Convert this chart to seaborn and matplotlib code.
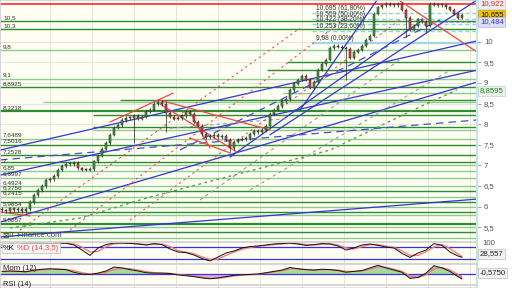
import numpy as np
import pandas as pd
import matplotlib
matplotlib.use("Agg")
import matplotlib.pyplot as plt
from matplotlib.patches import Rectangle
import seaborn as sns

# ---------------- data ----------------
closes = [5.91, 5.89, 5.96, 5.91, 5.94, 5.89, 5.94, 6.11, 6.28, 6.40,
          6.50, 6.64, 6.67, 6.74, 6.89, 6.98, 7.03, 7.03, 7.06, 6.93,
          6.89, 6.89, 6.91, 7.10, 7.23, 7.40, 7.54, 7.74, 7.91, 7.98,
          8.10, 8.15, 8.15, 8.20, 8.13, 8.18, 8.30, 8.35, 8.49, 8.54,
          8.49, 8.27, 8.18, 8.13, 8.15, 8.20, 8.30, 8.25, 8.05, 7.96,
          7.76, 7.69, 7.71, 7.74, 7.69, 7.71, 7.62, 7.42, 7.57, 7.62,
          7.64, 7.66, 7.76, 7.83, 7.81, 7.86, 7.96, 8.25, 8.35, 8.44,
          8.56, 8.61, 8.83, 8.98, 9.08, 9.17, 9.08, 8.88, 9.03, 9.32,
          9.46, 9.56, 9.85, 9.90, 9.88, 9.85, 9.83, 9.61, 9.76, 9.81,
          9.90, 10.05, 10.15, 10.68, 10.83, 10.88, 10.92, 10.90, 10.88, 10.92,
          10.78, 10.58, 10.29, 10.39, 10.54, 10.49, 10.39, 10.92, 10.90, 10.88,
          10.90, 10.83, 10.78, 10.68, 10.58, 10.655]
opens = [5.94, 5.91, 5.89, 5.96, 5.91, 5.94, 5.89, 5.94, 6.11, 6.28,
         6.40, 6.50, 6.64, 6.67, 6.74, 6.89, 6.98, 7.03, 7.03, 7.06,
         6.93, 6.89, 6.89, 6.91, 7.10, 7.23, 7.40, 7.54, 7.74, 7.91,
         7.98, 8.10, 8.15, 8.15, 8.20, 8.13, 8.18, 8.30, 8.35, 8.49,
         8.54, 8.49, 8.27, 8.18, 8.13, 8.15, 8.20, 8.30, 8.25, 8.05,
         7.96, 7.76, 7.69, 7.71, 7.74, 7.69, 7.71, 7.62, 7.42, 7.57,
         7.62, 7.64, 7.66, 7.76, 7.83, 7.81, 7.86, 7.96, 8.25, 8.35,
         8.44, 8.56, 8.61, 8.83, 8.98, 9.08, 9.17, 9.08, 8.88, 9.03,
         9.32, 9.46, 9.56, 9.85, 9.90, 9.88, 9.85, 9.83, 9.61, 9.76,
         9.81, 9.90, 10.05, 10.15, 10.68, 10.83, 10.88, 10.92, 10.90, 10.88,
         10.92, 10.78, 10.58, 10.29, 10.39, 10.54, 10.49, 10.39, 10.92, 10.90,
         10.88, 10.90, 10.83, 10.78, 10.68, 10.58]
long_low_bars = [33, 41, 57, 86, 101, 106]
long_low_vals = [7.55, 7.82, 7.33, 9.07, 10.11, 10.23]

level_prices = [10.5, 10.3, 9.8, 9.5, 9.31, 9.1, 8.8925, 8.75, 8.59, 8.54,
                8.3218, 8.22, 7.94, 7.86, 7.6489, 7.5016, 7.2528, 7.08, 7.0,
                6.85, 6.6997, 6.4924, 6.3756, 6.2415, 6.10, 5.9854, 5.87,
                5.79, 5.5857, 5.5, 5.39, 5.23]
level_labels = ["10,5", "10,3", "9,8", "", "", "9,1", "8,8925", "", "", "",
                "8,3218", "", "", "", "7,6489", "7,5016", "7,2528", "", "7",
                "6,85", "6,6997", "6,4924", "6,3756", "6,2415", "", "5,9854", "",
                "", "5,5857", "", "", ""]

fib_prices = [10.695, 10.559, 10.422, 10.253, 9.98]
fib_labels = ["10,695 (61,80%)", "10,559 (50,00%)", "10,422 (38,20%)",
              "10,253 (23,60%)", "9,98 (0,00%)"]

period_high = 10.922
last_close = 10.655
blue_level = 10.484
green_level = 8.8595
price_ticks = [5.5, 6, 6.5, 7, 7.5, 8, 8.5, 9, 9.5, 10]

# trend lines: (bar0, price0, bar1, price1)
blue_lines = [(-0.5, 5.26, 118.75, 6.18), (-0.5, 5.62, 118.75, 9.02),
              (-0.5, 6.76, 118.75, 9.31), (-0.5, 7.37, 118.75, 10.02),
              (67, 7.74, 118.75, 11.01), (74.5, 8.34, 93.75, 11.01),
              (57, 7.20, 104.5, 10.48)]
blue_dashed = [(-0.5, 7.13, 118.75, 8.10), (44.5, 7.37, 109.5, 10.53)]
grey_dashed = [(42, 7.90, 72, 8.14), (49.5, 6.16, 99.5, 9.56), (62, 6.40, 112, 9.31)]
red_dashed = [(4.5, 5.43, 74.5, 10.33), (17, 5.43, 87, 10.65), (32, 5.67, 99.5, 10.53)]
red_lines = [(-0.5, 5.87, 7, 5.77), (27, 8.05, 42.75, 8.75), (39.5, 8.58, 67, 7.86),
             (39.5, 8.49, 58.75, 7.32), (47, 8.29, 52, 7.42), (47, 7.66, 57, 7.30),
             (99.5, 10.99, 118.75, 9.75)]
green_curve_bars = [2, 19.5, 37, 82, 104.5, 113.75]
green_curve_vals = [5.48, 5.72, 6.23, 7.37, 8.42, 8.83]

stoch_k = [90, 95, 92, 97, 100, 98, 95, 100, 99, 90, 65, 38, 75, 92, 100, 100, 98,
           95, 90, 97, 92, 70, 55, 52, 40, 22, 10, 30, 50, 60, 75, 82, 85, 90, 95,
           97, 100, 95, 88, 92, 97, 95, 85, 65, 75, 90, 95, 88, 80, 75, 48, 28, 50,
           65, 97, 88, 55, 35, 28.557]
stoch_d = [88, 92, 93, 94, 97, 98, 97, 97, 99, 95, 80, 55, 58, 82, 96, 99, 99, 96,
           92, 93, 94, 82, 62, 54, 46, 30, 18, 20, 38, 55, 68, 78, 84, 88, 92, 96,
           98, 97, 92, 90, 94, 96, 90, 75, 70, 82, 92, 92, 84, 78, 60, 38, 38, 57,
           80, 92, 72, 45, 32]
mom = [0.3, 0.35, 0.3, 0.25, 0.45, 0.55, 0.6, 0.55, 0.5, 0.2, 0.0, -0.05, 0.1, 0.35,
       0.8, 0.7, 0.5, 0.35, 0.15, 0.1, 0.1, 0.05, -0.1, -0.2, -0.3, -0.45, -0.55,
       -0.45, -0.3, -0.15, -0.1, -0.05, 0.0, 0.15, 0.3, 0.45, 0.75, 0.6, 0.5, 0.45,
       0.55, 0.5, 0.4, 0.2, 0.3, 0.4, 0.7, 1.0, 0.7, 0.45, 0.2, -0.5, -0.4, 0.1,
       0.95, 0.7, 0.3, -0.3, -0.575]
mom_sig = [0.28, 0.32, 0.32, 0.28, 0.35, 0.48, 0.55, 0.57, 0.52, 0.38, 0.15, 0.0,
           0.05, 0.2, 0.5, 0.65, 0.62, 0.45, 0.28, 0.15, 0.1, 0.08, -0.05, -0.15,
           -0.25, -0.38, -0.5, -0.48, -0.38, -0.22, -0.12, -0.08, -0.02, 0.1, 0.25,
           0.4, 0.6, 0.6, 0.52, 0.48, 0.5, 0.52, 0.45, 0.3, 0.3, 0.35, 0.55, 0.8,
           0.78, 0.55, 0.3, -0.2, -0.4, -0.1, 0.6, 0.75, 0.45, -0.05, -0.4]

# ---------------- style ----------------
sns.set_theme(style="white")
plt.rcParams['font.family'] = ['Liberation Sans', 'DejaVu Sans']

W, H = 512, 288
BG = '#fefef2'
DARKG = '#2d8c2d'
LIGHTG = '#8fcc8f'
BLUE = '#3535d8'
fig = plt.figure(figsize=(W / 100, H / 100), dpi=100, facecolor='white')


def ax_px(top, bottom, left=0, right=477):
    a = fig.add_axes([left / W, 1 - bottom / H, (right - left) / W, (bottom - top) / H])
    a.set_facecolor(BG)
    for s in a.spines.values():
        s.set_color('#cfcfcf')
        s.set_linewidth(0.6)
    a.spines['right'].set_color('#c6e4f0')
    a.spines['right'].set_linewidth(1.6)
    return a


XMIN, XMAX = -0.5, 118.75
vgrid = np.arange(12, 118, 10.5)

n = len(closes)
bars = np.arange(n)
o = np.array(opens[:n])
c = np.array(closes)
hi = np.maximum(o, c) + 0.04
lo = np.minimum(o, c) - 0.04
lo[long_low_bars] = long_low_vals
df = pd.DataFrame({'bar': bars, 'open': o, 'close': c, 'high': hi, 'low': lo})

# ---------------- main price panel ----------------
ax = ax_px(0, 241)
ax.set_xlim(XMIN, XMAX)
ax.set_ylim(5.163, 11.012)
for v in vgrid:
    ax.axvline(v, color='#e2e2da', lw=0.6, zorder=0)
for p in np.arange(5.5, 11.0, 0.5):
    ax.axhline(p, color='#e2e2da', lw=0.6, zorder=0)

level_start = [-0.5, -0.5, -0.5, 71.25, 66.25, -0.5, -0.5, 70.25, 29.5, 10.25,
               -0.5, 22.75, 22.75, 22.75, -0.5, -0.5, -0.5, -0.5, -0.5,
               -0.5, -0.5, -0.5, -0.5, -0.5, -0.5, -0.5, -0.5,
               -0.5, -0.5, -0.5, -0.5, -0.5]
level_kind = ['d', 'd', 'l', 'd', 'd', 'l', 'd', 'l', 'd', 'l',
              'D', 'd', 'd', 'l', 'l', 'd', 'd', 'd', 'l',
              'l', 'l', 'l', 'd', 'l', 'd', 'l', 'd',
              'l', 'D', 'l', 'd', 'l']
for p, s, k, lab in zip(level_prices, level_start, level_kind, level_labels):
    col = LIGHTG if k == 'l' else DARKG
    lw = 1.6 if k == 'D' else 1.0
    ax.hlines(p, s, XMAX, color=col, lw=lw, zorder=1)
    if lab:
        ax.text(0.25, p + 0.025, lab, fontsize=4.6, color='#333333', va='bottom',
                ha='left', zorder=6)

# fibonacci levels
for p, lab in zip(fib_prices, fib_labels):
    if p == 9.98:
        ax.hlines(p, 77.5, XMAX, color='#9fd6ef', lw=1.6, zorder=1)
    else:
        ax.hlines(p, 77.5, XMAX, color='#93d0ee', lw=1.0, linestyles=(0, (3, 2)), zorder=1)
    ax.text(78.5, p + 0.02, lab, fontsize=4.8, color='#333333', va='bottom', ha='left', zorder=6)
ax.hlines(blue_level, 105, XMAX, color='#a0a0e8', lw=0.8, linestyles=(0, (3, 2)))
ax.axhline(period_high, color='#ff3b3b', lw=1.3, zorder=2)


def seg(a, lines, **kw):
    for b0, p0, b1, p1 in lines:
        sns.lineplot(x=[b0, b1], y=[p0, p1], ax=a, legend=False, **kw)


seg(ax, blue_lines, color=BLUE, lw=0.9, zorder=2)
seg(ax, blue_dashed, color='#4a4ad8', lw=0.9, linestyle=(0, (6, 4)), zorder=2)
seg(ax, grey_dashed, color='#9a9a9a', lw=0.8, linestyle=(0, (3, 3)), zorder=2)
seg(ax, red_dashed, color='#f05050', lw=0.8, linestyle=(0, (2, 3)), zorder=2)
seg(ax, red_lines, color='#f04848', lw=0.9, zorder=2)
sns.lineplot(x=green_curve_bars, y=green_curve_vals, ax=ax, color='#5a9e5a', lw=1.0,
             linestyle=(0, (2, 2.5)), legend=False, zorder=2)

# candles
up = df['close'] >= df['open']
ax.vlines(df['bar'], df['low'], df['high'], color='#1e1e1e', lw=0.5, zorder=4)
body = np.maximum((df['close'] - df['open']).abs(), 0.025)
ax.bar(df['bar'], body, bottom=np.minimum(df['open'], df['close']), width=0.66,
       color=np.where(up, '#3aa23a', '#e23c3c'), edgecolor='#1e1e1e', linewidth=0.35,
       zorder=5)

ax.set_xticks([])
ax.yaxis.tick_right()
ax.set_yticks(price_ticks)
ax.set_yticklabels([f"{v:g}".replace('.', ',') for v in price_ticks])
ax.tick_params(axis='y', right=True, length=3, width=0.6, color='#999999',
               labelsize=5.6, labelcolor='#555555', pad=2)
ax.set_ylabel('')
ax.set_xlabel('')


def right_box(a, y, txt, tc, fc, ec):
    a.text(1.006, y, txt, transform=a.get_yaxis_transform(), fontsize=5.6, color=tc,
           va='center', ha='left', zorder=10,
           bbox=dict(boxstyle='square,pad=0.18', fc=fc, ec=ec, lw=0.5))


right_box(ax, period_high, "10,922", '#e02a2a', '#eeeeee', '#cccccc')
right_box(ax, last_close, "10,655", '#111111', '#f4c200', '#c89c00')
right_box(ax, blue_level, "10,484", '#3a3ab8', '#dedef2', '#b8b8dc')
# box drawn a touch below its level so the "9" tick stays readable
right_box(ax, green_level - 0.05, "8,8595", '#1f7f1f', '#e8f4e8', '#b8d8b8')

ax.text(0.004, 0.022, "\u22a0", transform=ax.transAxes, fontsize=5.6, color='#444444',
        family=['DejaVu Sans'], va='center', ha='left', zorder=10)
ax.text(0.017, 0.022, "IT-Finance.com", transform=ax.transAxes, fontsize=5.6,
        color='#444444', va='center', ha='left', zorder=10)

ind_x = list(range(0, 116, 2)) + [115]

# ---------------- stochastic panel ----------------
sax = ax_px(242, 263)
sax.set_xlim(XMIN, XMAX)
sax.set_ylim(0, 105)
for v in vgrid:
    sax.axvline(v, color='#e2e2da', lw=0.6, zorder=0)
sax.axhline(80, color=BLUE, lw=0.9)
sax.axhline(20, color=BLUE, lw=0.9)
sns.lineplot(x=ind_x, y=stoch_d, ax=sax, color='#ff7a7a', lw=1.0, legend=False)
sns.lineplot(x=ind_x, y=stoch_k, ax=sax, color='#111111', lw=0.7, legend=False)
sax.set_xticks([]); sax.set_yticks([])
sax.set_xlabel(''); sax.set_ylabel('')
sax.text(1.012, 98, "100", transform=sax.get_yaxis_transform(), fontsize=5.6,
         color='#555555', va='center', ha='left')
right_box(sax, 45, "28,557", '#222222', '#f2f2f2', '#bbbbbb')

# ---------------- momentum panel ----------------
max_ = ax_px(264, 284)
max_.set_xlim(XMIN, XMAX)
max_.set_ylim(-1.15, 1.15)
for v in vgrid:
    max_.axvline(v, color='#e2e2da', lw=0.6, zorder=0)
m = np.array(mom)
max_.fill_between(ind_x, m, 0, where=m >= 0, interpolate=True, color='#a9d7a2', lw=0)
max_.fill_between(ind_x, m, 0, where=m < 0, interpolate=True, color='#dcaed6', lw=0)
max_.axhline(0, color=BLUE, lw=0.9)
sns.lineplot(x=ind_x, y=mom_sig, ax=max_, color='#ff7070', lw=0.9, legend=False)
sns.lineplot(x=ind_x, y=mom, ax=max_, color='#111111', lw=0.7, legend=False)
max_.set_xticks([]); max_.set_yticks([])
max_.set_xlabel(''); max_.set_ylabel('')
right_box(max_, 0.12, "-0,5750", '#222222', '#f2f2f2', '#bbbbbb')

# ---------------- RSI panel (cut off) ----------------
rax = ax_px(285, 300)
rax.set_xlim(XMIN, XMAX)
rax.set_ylim(0, 100)
for v in vgrid:
    rax.axvline(v, color='#e2e2da', lw=0.6, zorder=0)
rax.axhline(80, color=BLUE, lw=0.9)
rax.set_xticks([]); rax.set_yticks([])

# ---------------- panel captions ----------------
def fig_text(xp, yp, s, **kw):
    fig.text(xp / W, 1 - yp / H, s, **kw)


fig.patches.append(Rectangle((1.5 / W, 1 - 253 / H), 58 / W, 10 / H,
                             transform=fig.transFigure, fc='#f6f6f6', ec='#bdbdbd',
                             lw=0.5, zorder=8))
fig_text(3, 248, "%K", fontsize=5.6, color='#111111', va='center', ha='left', zorder=9)
fig_text(17, 248, "%D (14,3,5)", fontsize=5.6, color='#ee4444', va='center', ha='left', zorder=9)
fig_text(3, 268.5, "Mom (12)", fontsize=5.6, color='#222222', va='center', ha='left', zorder=9)
fig_text(3, 287.5, "RSI (14)", fontsize=5.4, color='#222222', va='bottom', ha='left', zorder=9)

fig.savefig("out.png", dpi=100, facecolor='white')
